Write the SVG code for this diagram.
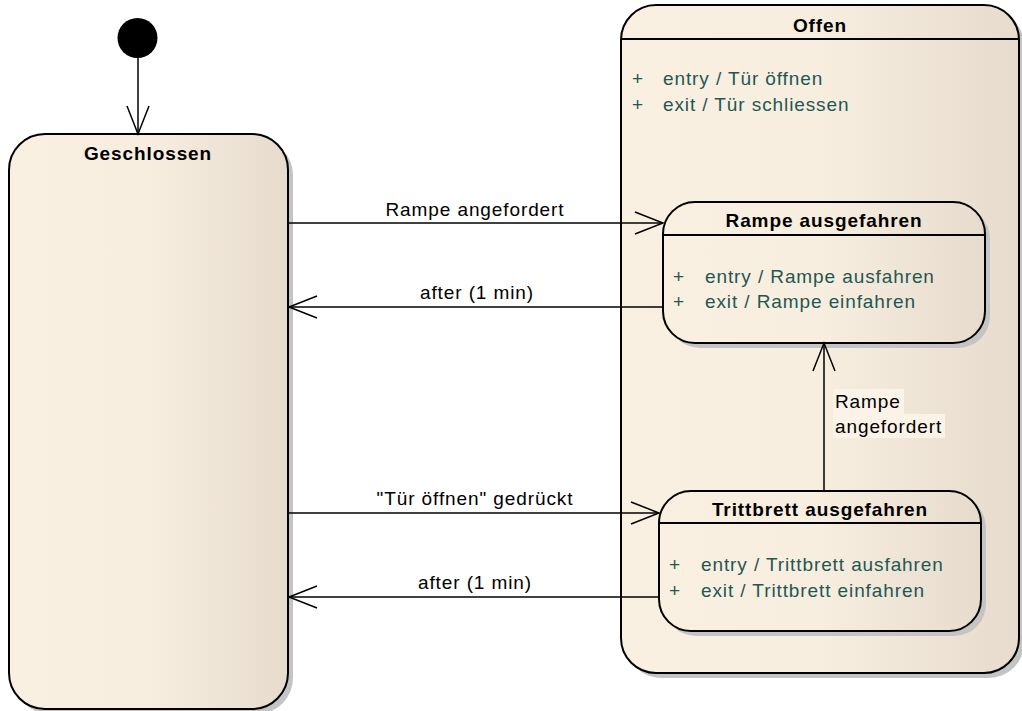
<svg xmlns="http://www.w3.org/2000/svg" width="1022" height="711" viewBox="0 0 1022 711">
<style>
.st{stroke:#000;stroke-width:2;fill:url(#g)}
.sh{fill:#c4c4c4}
.hl{stroke:#000;stroke-width:2}
.t{font-family:"Liberation Sans",Arial,sans-serif;font-size:19px;letter-spacing:0.9px;fill:#000}
.b{font-weight:bold}
.a{fill:#1f5753}
.c{stroke:#000;stroke-width:1.5;fill:none;marker-end:url(#ah)}
.lb{fill:#fbf3e8}
</style>
<defs>
<linearGradient id="g" x1="0" y1="0" x2="1" y2="0">
<stop offset="0" stop-color="#faf0e2"/>
<stop offset="0.5" stop-color="#f8eee0"/>
<stop offset="1" stop-color="#e6dbcc"/>
</linearGradient>
<marker id="ah" markerUnits="userSpaceOnUse" markerWidth="34" markerHeight="28" viewBox="-31 -14 34 28" refX="0" refY="0" orient="auto">
<path d="M-28,-11 L0,0 L-28,11" fill="none" stroke="#000" stroke-width="1.5"/>
</marker>
</defs>
<rect width="1022" height="711" fill="#fff"/>

<g id="offen">
<rect class="sh" x="626" y="10" width="398" height="668" rx="35"/>
<rect class="st" x="621" y="5" width="398" height="668" rx="35"/>
<line class="hl" x1="621" y1="39" x2="1019" y2="39"/>
<text class="t b" x="820" y="32" text-anchor="middle">Offen</text>
<text class="t a" x="632" y="85">+</text>
<text class="t a" x="663" y="85">entry / Tür öffnen</text>
<text class="t a" x="632" y="111">+</text>
<text class="t a" x="663" y="111">exit / Tür schliessen</text>
</g>

<g id="rampe">
<rect class="sh" x="668" y="207" width="322" height="141" rx="32"/>
<rect class="st" x="663" y="202" width="322" height="141" rx="32"/>
<line class="hl" x1="663" y1="235" x2="985" y2="235"/>
<text class="t b" x="824" y="227" text-anchor="middle">Rampe ausgefahren</text>
<text class="t a" x="673" y="283">+</text>
<text class="t a" x="705" y="283">entry / Rampe ausfahren</text>
<text class="t a" x="673" y="308">+</text>
<text class="t a" x="705" y="308">exit / Rampe einfahren</text>
</g>

<g id="trittbrett">
<rect class="sh" x="664" y="496" width="322" height="140" rx="32"/>
<rect class="st" x="659" y="491" width="322" height="140" rx="32"/>
<line class="hl" x1="659" y1="523" x2="981" y2="523"/>
<text class="t b" x="820" y="516" text-anchor="middle">Trittbrett ausgefahren</text>
<text class="t a" x="669" y="571">+</text>
<text class="t a" x="701" y="571">entry / Trittbrett ausfahren</text>
<text class="t a" x="669" y="597">+</text>
<text class="t a" x="701" y="597">exit / Trittbrett einfahren</text>
</g>

<g id="geschlossen">
<rect class="sh" x="14" y="139" width="279" height="575" rx="36"/>
<rect class="st" x="9" y="134" width="279" height="575" rx="36"/>
<text class="t b" x="148" y="160" text-anchor="middle">Geschlossen</text>
</g>

<g id="initial">
<circle cx="137.5" cy="38" r="20" fill="#000"/>
</g>

<g id="connectors">
<path class="c" d="M138,58 L138,134"/>
<path class="c" d="M288,223 L663,223"/>
<path class="c" d="M663,307 L289,307"/>
<path class="c" d="M288,513 L659,513"/>
<path class="c" d="M659,597 L289,597"/>
<path class="c" d="M824,491 L824,343"/>
<text class="t" x="475" y="216" text-anchor="middle">Rampe angefordert</text>
<text class="t" x="477" y="299" text-anchor="middle">after (1 min)</text>
<text class="t" x="475" y="505" text-anchor="middle">"Tür öffnen" gedrückt</text>
<text class="t" x="475" y="589" text-anchor="middle">after (1 min)</text>
<rect class="lb" x="833" y="389" width="71" height="25"/>
<rect class="lb" x="833" y="414" width="112" height="24"/>
<text class="t" x="835" y="408">Rampe</text>
<text class="t" x="835" y="433">angefordert</text>
</g>
</svg>
